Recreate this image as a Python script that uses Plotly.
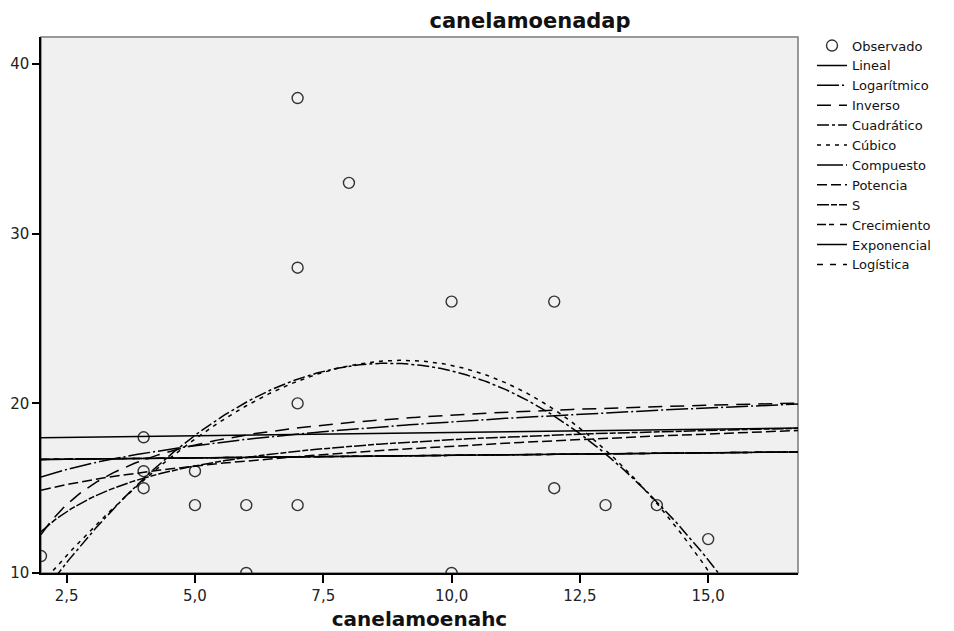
import numpy as np
import plotly.graph_objects as go

# Observed pairs (canelamoenahc, canelamoenadap)
hc = [2, 4, 4, 4, 5, 5, 6, 6, 7, 7, 7, 7, 8, 10, 10, 12, 12, 13, 14, 15]
dap = [11, 18, 16, 15, 16, 14, 14, 10, 38, 28, 20, 14, 33, 26, 10, 26, 15, 14, 14, 12]

x_range = [2.0, 16.75]
y_range = [10.0, 41.6]

x = np.array(hc, dtype=float)
y = np.array(dap, dtype=float)
xs = np.linspace(x_range[0], x_range[1], 400)


def lin_fit(u, v):
    b1, b0 = np.polyfit(u, v, 1)
    return b0, b1


# Curve-estimation models fitted to the observations
curves = {}
b0, b1 = lin_fit(x, y)
curves["Lineal"] = b0 + b1 * xs
b0, b1 = lin_fit(np.log(x), y)
curves["Logarítmico"] = b0 + b1 * np.log(xs)
b0, b1 = lin_fit(1 / x, y)
curves["Inverso"] = b0 + b1 / xs
curves["Cuadrático"] = np.polyval(np.polyfit(x, y, 2), xs)
curves["Cúbico"] = np.polyval(np.polyfit(x, y, 3), xs)
b0, b1 = lin_fit(x, np.log(y))
curves["Compuesto"] = np.exp(b0) * np.exp(b1) ** xs
b0, b1 = lin_fit(np.log(x), np.log(y))
curves["Potencia"] = np.exp(b0) * xs ** b1
b0, b1 = lin_fit(1 / x, np.log(y))
curves["S"] = np.exp(b0 + b1 / xs)
b0, b1 = lin_fit(x, np.log(y))
curves["Crecimiento"] = np.exp(b0 + b1 * xs)
curves["Exponencial"] = np.exp(b0) * np.exp(b1 * xs)
c0, c1 = lin_fit(x, np.log(1 / y))
curves["Logística"] = 1 / (np.exp(c0) * np.exp(c1) ** xs)

dashes = {
    "Lineal": "solid",
    "Logarítmico": "22px,3px,2px,3px",
    "Inverso": "14px,8px",
    "Cuadrático": "12px,3px,3px,3px",
    "Cúbico": "4px,5px",
    "Compuesto": "26px,3px,2px,3px",
    "Potencia": "10px,4px",
    "S": "12px,2px,6px,2px",
    "Crecimiento": "9px,3px,5px,6px",
    "Exponencial": "solid",
    "Logística": "6px,7px",
}

fig = go.Figure()
fig.add_trace(go.Scatter(
    x=hc, y=dap, mode="markers", name="Observado",
    marker=dict(symbol="circle-open", size=11, color="#333333", line=dict(width=1.4)),
))
for name, ys in curves.items():
    fig.add_trace(go.Scatter(
        x=xs, y=ys, mode="lines", name=name,
        line=dict(color="black", width=1.5, dash=dashes[name]),
    ))

font = "DejaVu Sans, Liberation Sans, sans-serif"
fig.update_layout(
    width=954, height=631,
    margin=dict(l=41, r=156, t=37, b=58),
    paper_bgcolor="white",
    plot_bgcolor="#f0f0f0",
    separators=", ",
    font=dict(family=font, size=13, color="black"),
    title=dict(text="<b>canelamoenadap</b>", x=530 / 954, xanchor="center", xref="container",
               y=1 - 21 / 631, yanchor="middle", yref="container",
               font=dict(family=font, size=21, color="#111111")),
    showlegend=True,
    legend=dict(x=1.0185, xanchor="left", y=1.012, yanchor="top",
                font=dict(family=font, size=13, color="#111111"), tracegroupgap=0,
                itemwidth=30, bgcolor="rgba(0,0,0,0)"),
    shapes=[dict(type="rect", xref="paper", yref="paper", x0=0, x1=1, y0=0, y1=1,
                 line=dict(color="#7a7a7a", width=1.5), layer="below")],
)
fig.update_xaxes(
    range=x_range, tickvals=[2.5, 5.0, 7.5, 10.0, 12.5, 15.0], tickformat=".1f",
    ticks="outside", ticklen=8, tickwidth=1.5, tickcolor="black",
    showline=True, linecolor="black", linewidth=1.5, mirror=False, automargin=False,
    showgrid=False, zeroline=False, tickfont=dict(family=font, size=15, color="#222222"),
    title=dict(text="<b>canelamoenahc</b>", font=dict(family=font, size=20, color="#111111"),
               standoff=8),
)
fig.update_yaxes(
    range=y_range, tickvals=[10, 20, 30, 40], automargin=False,
    ticks="outside", ticklen=7, tickwidth=1.5, tickcolor="black",
    showline=True, linecolor="black", linewidth=1.5, mirror=False,
    showgrid=False, zeroline=False, tickfont=dict(family=font, size=15, color="#222222"),
)

fig.write_html("out.html")
